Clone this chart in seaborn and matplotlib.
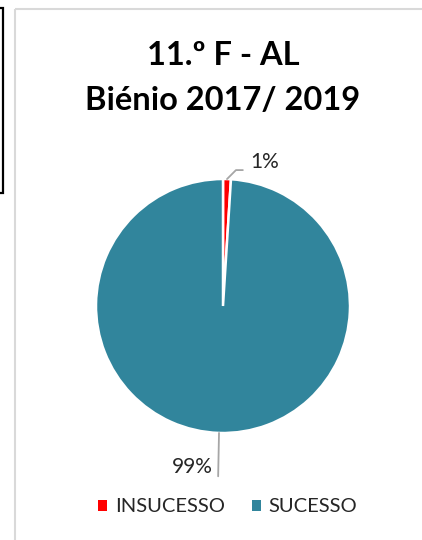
import matplotlib
matplotlib.use("Agg")
import matplotlib.pyplot as plt
from matplotlib.patches import Rectangle
import seaborn as sns
import numpy as np

categories = ["INSUCESSO", "SUCESSO"]
values = [1, 99]
colors = ["#FF0000", "#31859C"]
title_lines = ["11.º F - AL", "Biénio 2017/ 2019"]

sns.set_theme(style="white")
plt.rcParams['font.family'] = ['Lato', 'DejaVu Sans']

W, H = 422, 540
fig = plt.figure(figsize=(W/100, H/100), dpi=100)
fig.patch.set_facecolor("white")

# frames
fig.patches.append(Rectangle((15/W, 1-9/H), 1.0, -1.2, transform=fig.transFigure,
                             fill=False, edgecolor="#D9D9D9", linewidth=1.5, zorder=0))
fig.patches.append(Rectangle((-0.05, 1-193/H), 3/W+0.05, (193-8)/H, transform=fig.transFigure,
                             fill=False, edgecolor="black", linewidth=1.6, zorder=0))

cx, cy, r = 223, 306, 127
ax = fig.add_axes([(cx-r)/W, 1-(cy+r)/H, 2*r/W, 2*r/H])
wedges, _ = ax.pie(values, colors=colors, startangle=90, counterclock=False,
                   wedgeprops=dict(edgecolor="white", linewidth=1.8), radius=1)
ax.set_xlim(-1, 1); ax.set_ylim(-1, 1)
ax.set_aspect("equal")
ax.axis("off")

total = sum(values)
pcts = [f"{round(v/total*100)}%" for v in values]

# 1% label
w0 = wedges[0]
a0 = np.deg2rad((w0.theta1 + w0.theta2)/2)
ax.annotate(pcts[0], xy=(np.cos(a0), np.sin(a0)), xytext=(0.215, 1.13),
            fontsize=15, color="#262626", ha="left", va="center",
            annotation_clip=False,
            arrowprops=dict(arrowstyle="-", color="#A6A6A6", lw=1.3,
                            shrinkA=3, shrinkB=0, relpos=(0, 0.12),
                            connectionstyle="angle,angleA=0,angleB=45,rad=0"))
# 99% label
w1 = wedges[1]
a1 = np.deg2rad((w1.theta1 + w1.theta2)/2)
ax.annotate(pcts[1], xy=(np.cos(a1), np.sin(a1)), xytext=(-0.08, -1.27),
            fontsize=15, color="#262626", ha="right", va="center",
            annotation_clip=False,
            arrowprops=dict(arrowstyle="-", color="#A6A6A6", lw=1.3,
                            shrinkA=0, shrinkB=0, relpos=(1.13, 0.05),
                            connectionstyle="arc3,rad=0"))

fig.text(223/W, 1-65/H, title_lines[0], ha="center", va="baseline",
         fontsize=23.5, fontweight="bold", color="black")
fig.text(223/W, 1-110/H, title_lines[1], ha="center", va="baseline",
         fontsize=23.5, fontweight="bold", color="black")

handles = [Rectangle((0, 0), 1, 1, facecolor=c, edgecolor="none") for c in colors]
fig.legend(handles, categories, loc="center", bbox_to_anchor=(228/W, 1-507/H),
           ncol=2, frameon=False, fontsize=14.5, handlelength=0.45, handleheight=0.45,
           handletextpad=0.4, columnspacing=1.3, labelcolor="#262626",
           borderpad=0, borderaxespad=0)

fig.savefig("out.png", dpi=100)
